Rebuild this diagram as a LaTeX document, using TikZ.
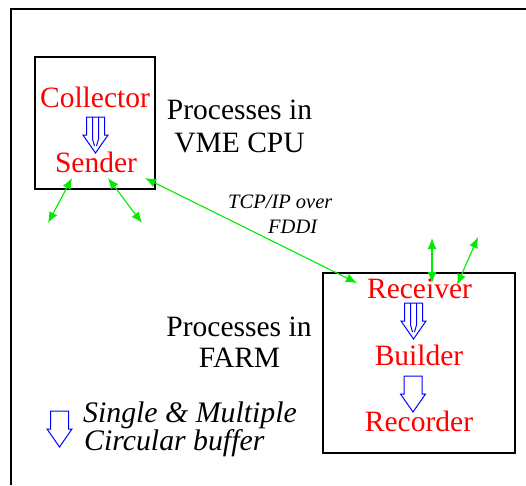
\documentclass[tikz,border=0pt]{standalone}
\usepackage{fontspec}
\setmainfont{Liberation Serif}
\newfontfamily\timesfont{Liberation Serif}
\usetikzlibrary{arrows.meta}
\definecolor{linkgreen}{RGB}{0,235,0}
\tikzset{
  proc/.style={text=red, inner sep=0pt, anchor=base, font=\timesfont\fontsize{29.5}{32}\selectfont},
  note/.style={text=black, inner sep=0pt, anchor=base, font=\timesfont\fontsize{29.5}{32}\selectfont},
  legend/.style={text=black, inner sep=0pt, anchor=base west, font=\timesfont\itshape\fontsize{29.8}{32}\selectfont},
  netlabel/.style={text=black, inner sep=0pt, anchor=base west, font=\timesfont\itshape\fontsize{20.5}{24}\selectfont},
  hostbox/.style={draw=black, line width=1.1pt},
  link/.style={linkgreen, line width=1.1pt, {Latex[length=11pt,width=9pt]}-{Latex[length=11pt,width=9pt]}},
  buffer/.pic={
    \draw[blue, line width=1pt, line join=miter]
      (-9,0) -- (-9,18) -- (-12.5,18) -- (0,36) -- (12.5,18) -- (9,18) -- (9,0) -- cycle;
  },
  multibuffer/.pic={
    \draw[blue, line width=1pt, line join=miter]
      (-9,0) -- (-9,18) -- (-12.5,18) -- (0,36) -- (12.5,18) -- (9,18) -- (9,0) -- cycle;
    \draw[blue, line width=1pt] (-3,0) -- (-3,22) -- (-1,29);
    \draw[blue, line width=1pt] (3,0) -- (3,22) -- (1,29);
  }
}
\begin{document}
\begin{tikzpicture}[x=1pt, y=-1pt]
  \useasboundingbox (0,0) rectangle (526,485);

  % outer frame (only its top and left edges fall inside the page)
  \draw[line width=1.4pt] (11,485) -- (11,9) -- (526,9);

  % VME CPU box
  \draw[hostbox] (35,57) rectangle (155,189);
  \node[proc] (collector) at (95,107) {Collector};
  \node[proc] (sender) at (96,172) {Sender};
  \pic at (95.5,117) {multibuffer};

  \node[note] (vme1) at (239.5,119) {Processes in};
  \node[note] (vme2) at (239.5,152) {VME CPU};

  % FARM box
  \draw[hostbox] (323,273) rectangle (515,453);
  \node[proc] (receiver) at (419.5,298) {Receiver};
  \node[proc] (builder) at (419,365) {Builder};
  \node[proc] (recorder) at (419,431) {Recorder};
  \pic at (413.5,303) {multibuffer};
  \pic at (413,376) {buffer};

  \node[note] (farm1) at (239,336) {Processes in};
  \node[note] (farm2) at (239.5,367) {FARM};

  % network label
  \node[netlabel] (tcp) at (228,208) {TCP/IP over};
  \node[netlabel] (fddi) at (268,233) {FDDI};

  % legend
  \pic at (59.5,411) {buffer};
  \node[legend] (leg1) at (83,422) {Single \& Multiple};
  \node[legend] (leg2) at (84,450) {Circular buffer};

  % network connections
  \coordinate (sA) at (72,178);
  \coordinate (sAend) at (48,223);
  \coordinate (sB) at (108,178);
  \coordinate (sBend) at (142,223);
  \coordinate (sC) at (145,178);
  \coordinate (rA) at (357,283);
  \coordinate (rB) at (432,283);
  \coordinate (rBend) at (432,238);
  \coordinate (rC) at (457,285);
  \coordinate (rCend) at (478,237);

  \draw[link] (sA) -- (sAend);
  \draw[link] (sB) -- (sBend);
  \draw[link] (sC) -- (rA);
  \draw[link] (rB) -- (rBend);
  \draw[link] (rC) -- (rCend);
\end{tikzpicture}
\end{document}
